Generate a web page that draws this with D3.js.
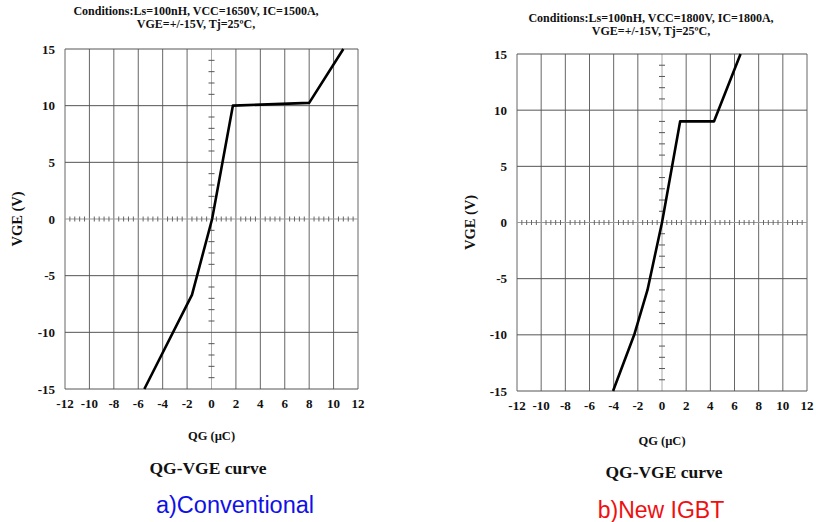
<!DOCTYPE html>
<html>
<head>
<meta charset="utf-8">
<script src="https://d3js.org/d3.v7.min.js"></script>
<style>
  body { margin: 0; background: #fff; }
  text { font-family: "Liberation Serif", "Times New Roman", serif; font-weight: bold; fill: #111; }
  .cap { font-family: "Liberation Sans", Arial, sans-serif; font-weight: normal; }
</style>
</head>
<body>
<script>
// tick values shared by both panels
var xTicks = [-12, -10, -8, -6, -4, -2, 0, 2, 4, 6, 8, 10, 12];
var yTicks = [-15, -10, -5, 0, 5, 10, 15];

// a) conventional
var convQG  = [-5.5, -1.6, 0.05, 1.75, 8.0, 10.8];
var convVGE = [-15, -6.7, 0, 10, 10.25, 15];
var convTitle = ["Conditions:Ls=100nH, VCC=1650V, IC=1500A,", "VGE=+/-15V, Tj=25\u00baC,"];

// b) new IGBT
var newQG  = [-4.05, -2.3, -1.2, 0, 1.5, 4.3, 6.5];
var newVGE = [-15, -10, -6, 0, 9, 9, 15];
var newTitle = ["Conditions:Ls=100nH, VCC=1800V, IC=1800A,", "VGE=+/-15V, Tj=25\u00baC,"];

var svg = d3.select("body").append("svg")
    .attr("width", 816)
    .attr("height", 522);

function panel(p) {
  var x = d3.scaleLinear().domain([-12, 12]).range([p.left, p.right]);
  var y = d3.scaleLinear().domain([-15, 15]).range([p.bottom, p.top]);
  var g = svg.append("g");

  // grid
  g.selectAll(".vg").data(xTicks).enter().append("line")
    .attr("x1", function (d) { return x(d); }).attr("x2", function (d) { return x(d); })
    .attr("y1", p.top).attr("y2", p.bottom)
    .attr("stroke", function (d) { return d === 0 ? "#aaa" : "#666"; })
    .attr("stroke-width", 1);
  g.selectAll(".hg").data(yTicks).enter().append("line")
    .attr("y1", function (d) { return y(d); }).attr("y2", function (d) { return y(d); })
    .attr("x1", p.left).attr("x2", p.right)
    .attr("stroke", function (d) { return d === 0 ? "#999" : "#555"; })
    .attr("stroke-width", 1);

  // minor ticks on the zero axes
  var mx = d3.range(-12, 12.01, 0.4).filter(function (d) { return Math.abs(d / 2 - Math.round(d / 2)) > 0.01; });
  g.selectAll(".mx").data(mx).enter().append("line")
    .attr("x1", function (d) { return x(d); }).attr("x2", function (d) { return x(d); })
    .attr("y1", y(0) - 2.5).attr("y2", y(0) + 2.5)
    .attr("stroke", "#666");
  var my = d3.range(-15, 15.01, 1).filter(function (d) { return d % 5 !== 0; });
  g.selectAll(".my").data(my).enter().append("line")
    .attr("y1", function (d) { return y(d); }).attr("y2", function (d) { return y(d); })
    .attr("x1", x(0) - 3).attr("x2", x(0) + 3)
    .attr("stroke", "#555");

  // tick labels
  g.selectAll(".xl").data(xTicks).enter().append("text")
    .attr("x", function (d) { return x(d); })
    .attr("y", p.bottom + 19)
    .attr("text-anchor", "middle")
    .style("font-size", "13px")
    .text(function (d) { return d; });
  g.selectAll(".yl").data(yTicks).enter().append("text")
    .attr("x", p.left - 10)
    .attr("y", function (d) { return y(d) + 4.5; })
    .attr("text-anchor", "end")
    .style("font-size", "13px")
    .text(function (d) { return d; });

  // curve
  var pts = d3.zip(p.qg, p.vge);
  g.append("path")
    .datum(pts)
    .attr("fill", "none")
    .attr("stroke", "#000")
    .attr("stroke-width", 2.6)
    .attr("stroke-linejoin", "round")
    .attr("d", d3.line().x(function (d) { return x(d[0]); }).y(function (d) { return y(d[1]); }));

  // titles and labels
  g.selectAll(".tt").data(p.title).enter().append("text")
    .attr("x", p.titleX)
    .attr("y", function (d, i) { return p.titleY + i * 13; })
    .attr("text-anchor", "middle")
    .style("font-size", "12px")
    .text(function (d) { return d; });

  g.append("text")
    .attr("transform", "translate(" + p.ylabX + "," + y(0) + ") rotate(-90)")
    .attr("text-anchor", "middle")
    .style("font-size", "14.5px")
    .text("VGE (V)");

  g.append("text")
    .attr("x", x(0)).attr("y", p.xlabY)
    .attr("text-anchor", "middle")
    .style("font-size", "12.5px")
    .text("QG (\u00b5C)");

  g.append("text")
    .attr("x", p.curveX).attr("y", p.curveY)
    .attr("text-anchor", "middle")
    .style("font-size", "17.5px")
    .text("QG-VGE curve");

  g.append("text")
    .attr("class", "cap")
    .attr("x", p.capX).attr("y", p.capY)
    .attr("text-anchor", "middle")
    .style("font-size", p.capSize)
    .style("fill", p.capColor)
    .text(p.caption);
}

panel({
  left: 65, right: 358, top: 49, bottom: 389,
  qg: convQG, vge: convVGE, title: convTitle,
  titleX: 196, titleY: 15, ylabX: 22, xlabY: 440,
  curveX: 208, curveY: 474,
  caption: "a)Conventional", capColor: "#1010e8", capX: 235, capY: 513, capSize: "23.5px"
});

panel({
  left: 517, right: 807, top: 54, bottom: 391,
  qg: newQG, vge: newVGE, title: newTitle,
  titleX: 651, titleY: 22, ylabX: 475, xlabY: 445,
  curveX: 664, curveY: 478,
  caption: "b)New IGBT", capColor: "#ee1010", capX: 661, capY: 518, capSize: "23px"
});
</script>
</body>
</html>
